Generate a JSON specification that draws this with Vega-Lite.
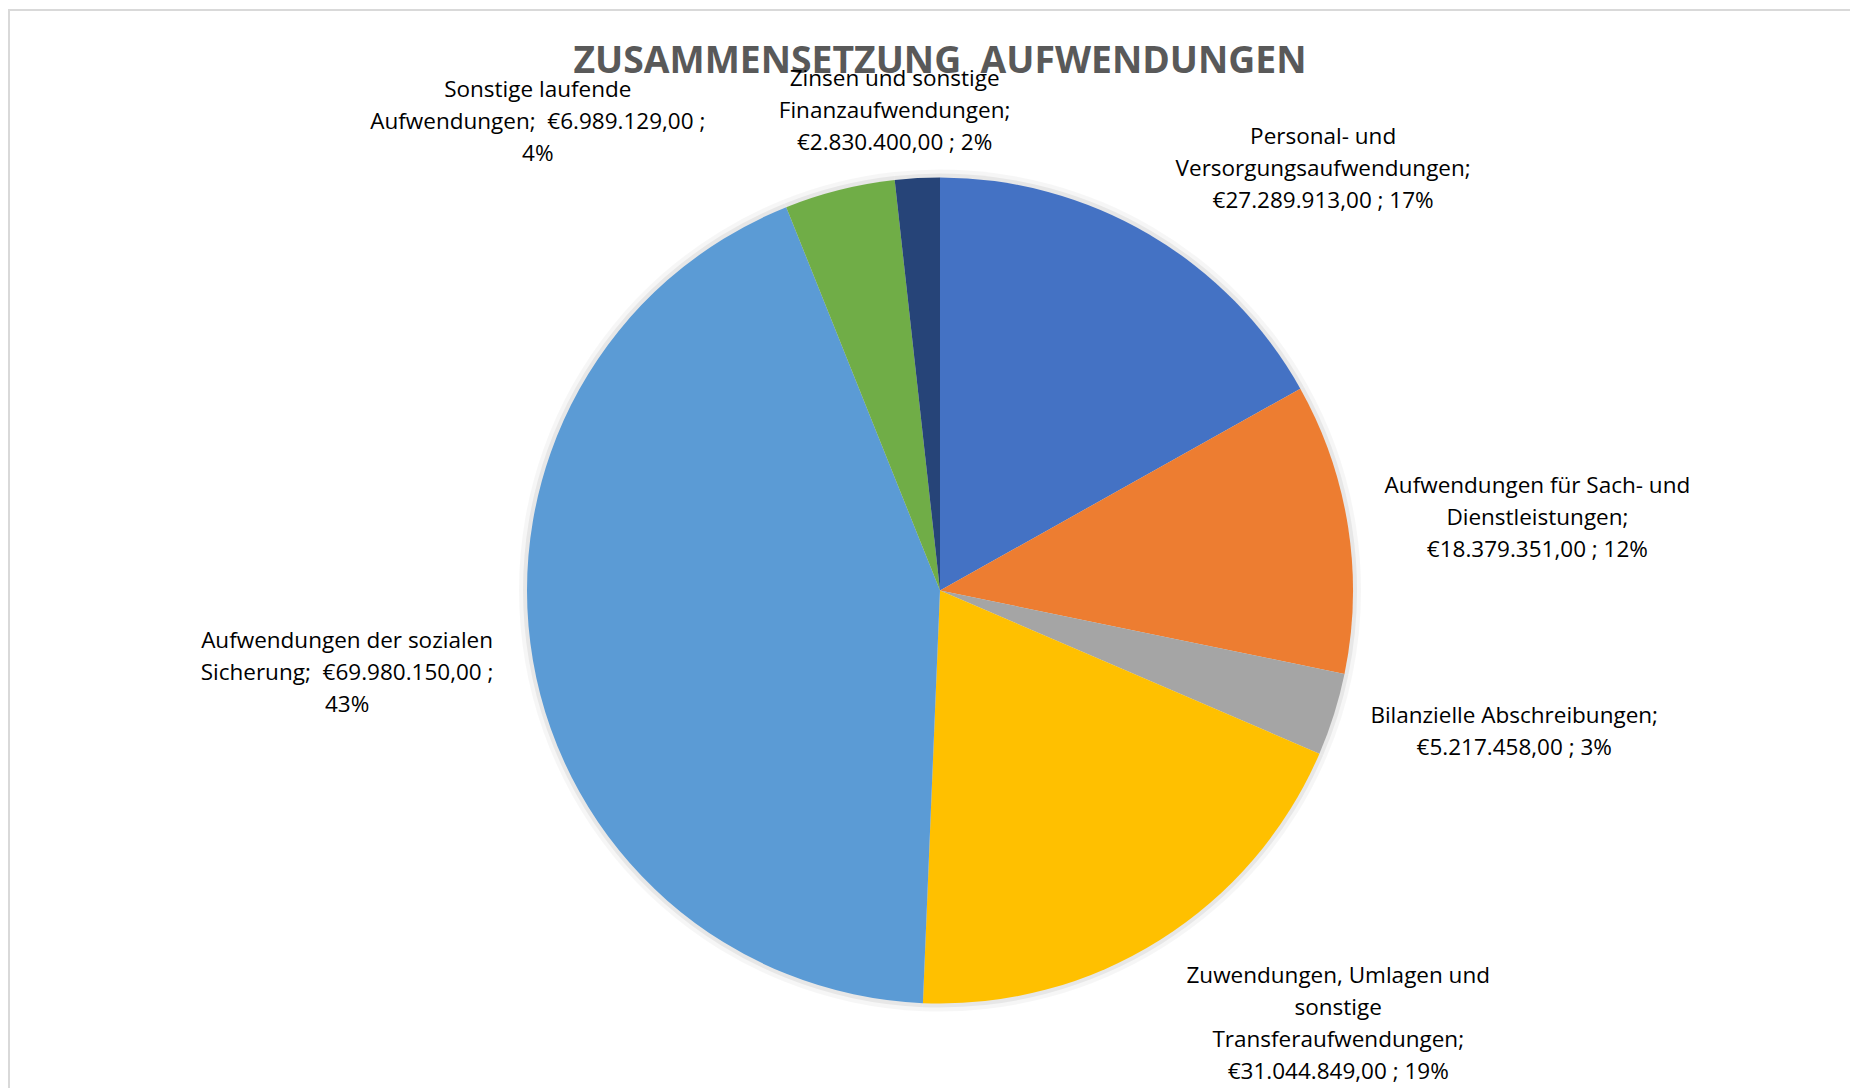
{
  "$schema": "https://vega.github.io/schema/vega-lite/v6.json",
  "width": 1862,
  "height": 1161,
  "autosize": "none",
  "padding": {"left": 9, "top": 10, "right": -21, "bottom": -83},
  "background": "white",
  "view": {"stroke": "#d9d9d9", "strokeWidth": 2, "fill": "white"},
  "datasets": {
    "slices": [
      {"rank": 1, "cat": "Personal- und Versorgungsaufwendungen", "value": 27289913, "label": "Personal- und\nVersorgungsaufwendungen;\n€27.289.913,00 ; 17%"},
      {"rank": 2, "cat": "Aufwendungen für Sach- und Dienstleistungen", "value": 18379351, "label": "Aufwendungen für Sach- und\nDienstleistungen;\n€18.379.351,00 ; 12%"},
      {"rank": 3, "cat": "Bilanzielle Abschreibungen", "value": 5217458, "label": "Bilanzielle Abschreibungen;\n€5.217.458,00 ; 3%"},
      {"rank": 4, "cat": "Zuwendungen, Umlagen und sonstige Transferaufwendungen", "value": 31044849, "label": "Zuwendungen, Umlagen und\nsonstige\nTransferaufwendungen;\n€31.044.849,00 ; 19%"},
      {"rank": 5, "cat": "Aufwendungen der sozialen Sicherung", "value": 69980150, "label": "Aufwendungen der sozialen\nSicherung; \u00a0€69.980.150,00 ;\n43%"},
      {"rank": 6, "cat": "Sonstige laufende Aufwendungen", "value": 6989129, "label": "Sonstige laufende\nAufwendungen; \u00a0€6.989.129,00 ;\n4%"},
      {"rank": 7, "cat": "Zinsen und sonstige Finanzaufwendungen", "value": 2830400, "label": "Zinsen und sonstige\nFinanzaufwendungen;\n€2.830.400,00 ; 2%"}
    ],
    "titleRow": [{"title": "ZUSAMMENSETZUNG \u00a0AUFWENDUNGEN"}]
  },
  "layer": [
    {
      "data": {"name": "titleRow"},
      "mark": {"type": "text", "theta": 0, "radius": 518, "font": "Open Sans", "fontSize": 37.3, "fontWeight": "bold", "fill": "#595959", "align": "center", "baseline": "alphabetic"},
      "encoding": {"text": {"field": "title", "type": "nominal"}}
    },
    {
      "data": {"name": "slices"},
      "encoding": {
        "theta": {"field": "value", "type": "quantitative", "stack": true},
        "order": {"field": "rank", "type": "quantitative"}
      },
      "layer": [
        {
          "mark": {"type": "arc", "outerRadius": 421, "fill": "#000000", "opacity": 0.035},
          "encoding": {"detail": {"field": "cat", "type": "nominal"}}
        },
        {
          "mark": {"type": "arc", "outerRadius": 417, "fill": "#000000", "opacity": 0.06},
          "encoding": {"detail": {"field": "cat", "type": "nominal"}}
        },
        {
          "mark": {"type": "arc", "outerRadius": 413},
          "encoding": {
            "color": {
              "field": "cat",
              "type": "nominal",
              "scale": {
                "domain": [
                  "Personal- und Versorgungsaufwendungen",
                  "Aufwendungen für Sach- und Dienstleistungen",
                  "Bilanzielle Abschreibungen",
                  "Zuwendungen, Umlagen und sonstige Transferaufwendungen",
                  "Aufwendungen der sozialen Sicherung",
                  "Sonstige laufende Aufwendungen",
                  "Zinsen und sonstige Finanzaufwendungen"
                ],
                "range": ["#4472C4", "#ED7D31", "#A5A5A5", "#FFC000", "#5B9BD5", "#70AD47", "#264478"]
              },
              "legend": null
            }
          }
        },
        {
          "mark": {"type": "text", "radius": 560, "dx": 100, "dy": 30, "font": "Open Sans", "fontSize": 22.5, "lineHeight": 32, "lineBreak": "\n", "align": "center", "baseline": "middle", "fill": "#000000"},
          "encoding": {"detail": {"field": "cat", "type": "nominal"}, "text": {"condition": {"test": "datum.rank === 1", "field": "label"}, "value": ""}}
        },
        {
          "mark": {"type": "text", "radius": 560, "dx": 44, "dy": -19, "font": "Open Sans", "fontSize": 22.5, "lineHeight": 32, "lineBreak": "\n", "align": "center", "baseline": "middle", "fill": "#000000"},
          "encoding": {"detail": {"field": "cat", "type": "nominal"}, "text": {"condition": {"test": "datum.rank === 2", "field": "label"}, "value": ""}}
        },
        {
          "mark": {"type": "text", "radius": 560, "dx": 40, "dy": -43, "font": "Open Sans", "fontSize": 22.5, "lineHeight": 32, "lineBreak": "\n", "align": "center", "baseline": "middle", "fill": "#000000"},
          "encoding": {"detail": {"field": "cat", "type": "nominal"}, "text": {"condition": {"test": "datum.rank === 3", "field": "label"}, "value": ""}}
        },
        {
          "mark": {"type": "text", "radius": 560, "dx": 100, "dy": -88, "font": "Open Sans", "fontSize": 22.5, "lineHeight": 32, "lineBreak": "\n", "align": "center", "baseline": "middle", "fill": "#000000"},
          "encoding": {"detail": {"field": "cat", "type": "nominal"}, "text": {"condition": {"test": "datum.rank === 4", "field": "label"}, "value": ""}}
        },
        {
          "mark": {"type": "text", "radius": 560, "dx": -41, "dy": -44, "font": "Open Sans", "fontSize": 22.5, "lineHeight": 32, "lineBreak": "\n", "align": "center", "baseline": "middle", "fill": "#000000"},
          "encoding": {"detail": {"field": "cat", "type": "nominal"}, "text": {"condition": {"test": "datum.rank === 5", "field": "label"}, "value": ""}}
        },
        {
          "mark": {"type": "text", "radius": 560, "dx": -266, "dy": 43, "font": "Open Sans", "fontSize": 22.5, "lineHeight": 32, "lineBreak": "\n", "align": "center", "baseline": "middle", "fill": "#000000"},
          "encoding": {"detail": {"field": "cat", "type": "nominal"}, "text": {"condition": {"test": "datum.rank === 6", "field": "label"}, "value": ""}}
        },
        {
          "mark": {"type": "text", "radius": 480, "dx": -19, "dy": -32, "font": "Open Sans", "fontSize": 22.5, "lineHeight": 32, "lineBreak": "\n", "align": "center", "baseline": "middle", "fill": "#000000"},
          "encoding": {"detail": {"field": "cat", "type": "nominal"}, "text": {"condition": {"test": "datum.rank === 7", "field": "label"}, "value": ""}}
        }
      ]
    }
  ],
  "config": {
    "view": {"stroke": "#d9d9d9", "strokeWidth": 2}
  }
}
